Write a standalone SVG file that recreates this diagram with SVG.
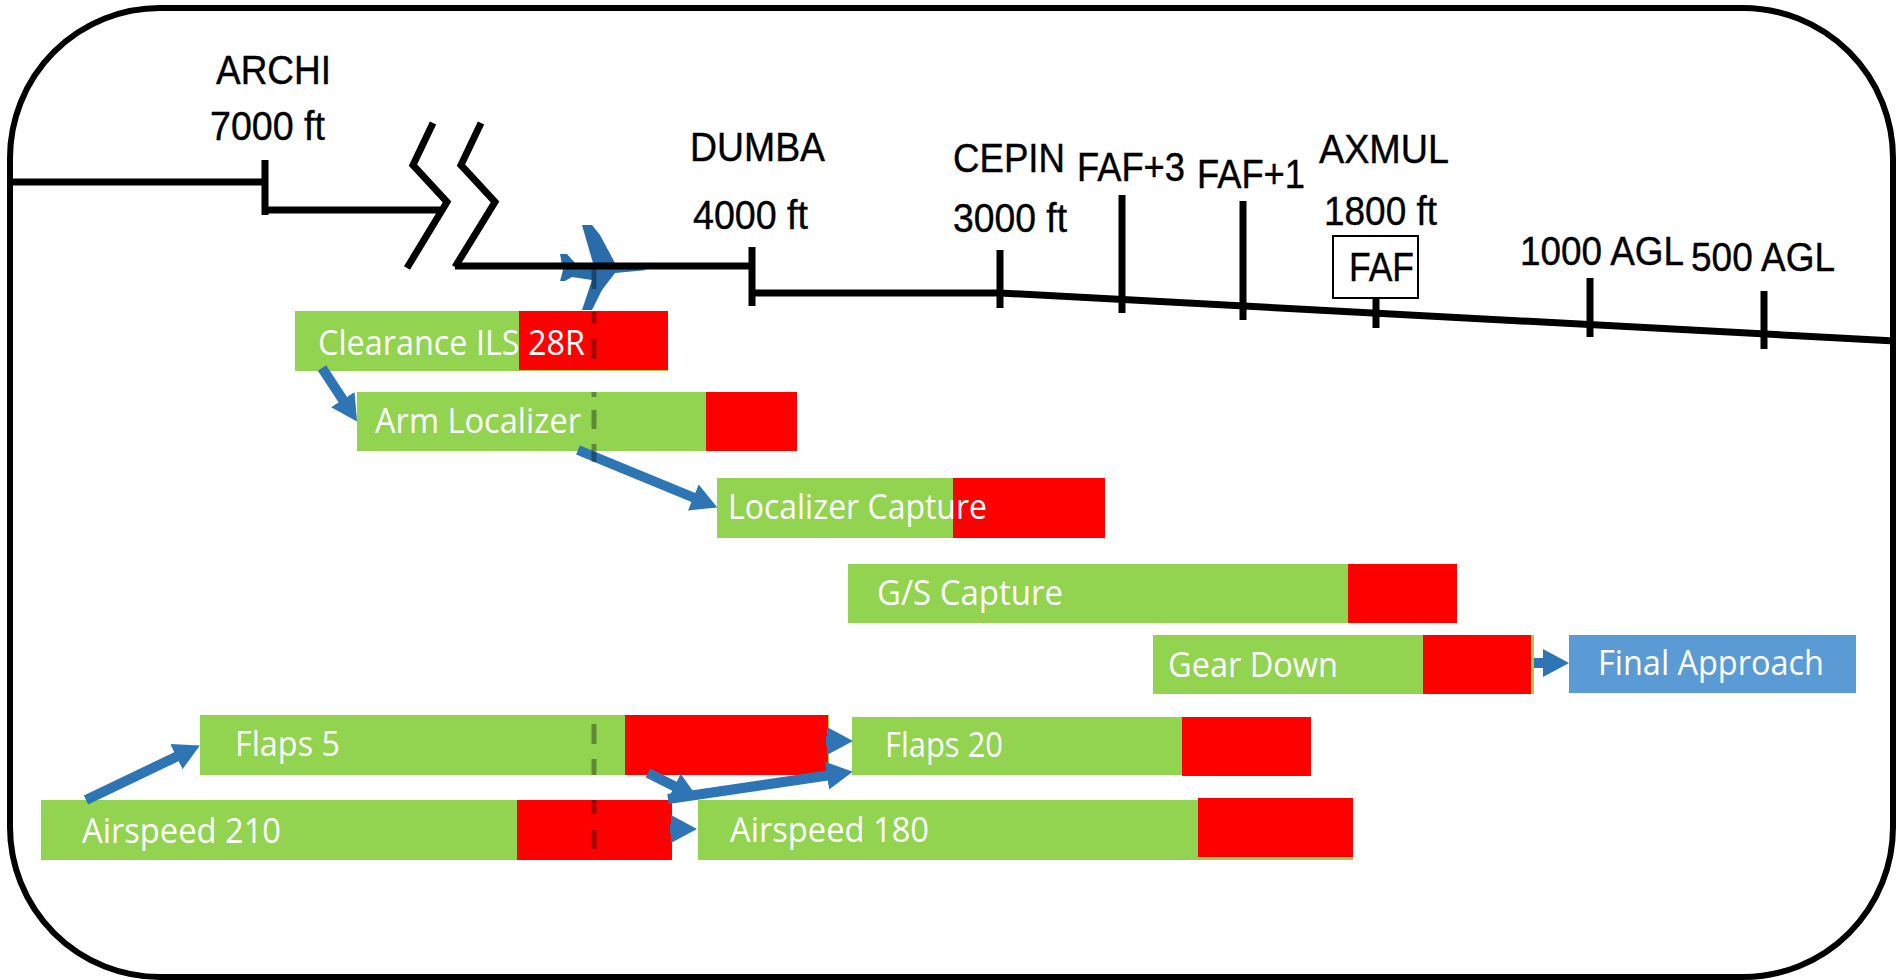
<svg xmlns="http://www.w3.org/2000/svg" width="1902" height="980" viewBox="0 0 1902 980">
<defs>
<marker id="ah" markerUnits="userSpaceOnUse" markerWidth="30" markerHeight="30" refX="4" refY="15" orient="auto"><path d="M0 1L26 15L0 29Z" fill="#2E75B6"/></marker>
</defs>
<style>
.ln{stroke:#000;stroke-width:7;fill:none}
.lb{font-family:"Liberation Sans",Arial,sans-serif;font-size:40px;fill:#000;stroke:#000;stroke-width:.4}
.bt{font-family:"Open Sans",sans-serif;font-size:34px;fill:#fff}
.g{fill:#92D350}.r{fill:#f00}
.ar{stroke:#2E75B6;stroke-width:10;fill:none;marker-end:url(#ah)}
.da{stroke:#000;stroke-opacity:.35;stroke-width:5;fill:none}
</style>
<rect width="1902" height="980" fill="#fff"/>
<rect id="frame" x="10" y="8" width="1883" height="969" rx="150" ry="150" fill="#fff" stroke="#000" stroke-width="6"/>
<g id="timeline">
<path class="ln" d="M10 182H265M265 160V215M265 210H440"/>
<path class="ln" d="M433 123L413 165L447 202L407 268M481 123L461 165L495 202L455 267"/>
<path id="plane" fill="#2A6BAA" d="M582 225H592L600 235L615 263L647 270L615 273L602 290L592 310H582L592 280L572 277L565 281H560L563 270L560 254H567L575 263H593Z"/>
<path class="ln" d="M455 266H752M752 247V306M752 293H1000L1895 341M1000 250V308"/>
<path class="ln" d="M1122 195V313M1243 201V320M1376 298V328M1590 278V337M1764 291V349"/>
</g>
<g id="n-archi"><text class="lb" x="216" y="84" textLength="115" lengthAdjust="spacingAndGlyphs">ARCHI</text><text class="lb" x="210" y="140" textLength="115" lengthAdjust="spacingAndGlyphs">7000 ft</text></g>
<g id="n-dumba"><text class="lb" x="690" y="161" textLength="135" lengthAdjust="spacingAndGlyphs">DUMBA</text><text class="lb" x="693" y="229" textLength="115" lengthAdjust="spacingAndGlyphs">4000 ft</text></g>
<g id="n-cepin"><text class="lb" x="953" y="172" textLength="112" lengthAdjust="spacingAndGlyphs">CEPIN</text><text class="lb" x="953" y="232" textLength="114" lengthAdjust="spacingAndGlyphs">3000 ft</text></g>
<g id="n-faf3"><text class="lb" x="1077" y="181" textLength="108" lengthAdjust="spacingAndGlyphs">FAF+3</text></g>
<g id="n-faf1"><text class="lb" x="1197" y="188" textLength="108" lengthAdjust="spacingAndGlyphs">FAF+1</text></g>
<g id="n-axmul"><text class="lb" x="1319" y="163" textLength="130" lengthAdjust="spacingAndGlyphs">AXMUL</text><text class="lb" x="1324" y="225" textLength="113" lengthAdjust="spacingAndGlyphs">1800 ft</text></g>
<g id="n-faf"><rect x="1333" y="236" width="85" height="62" fill="#fff" stroke="#000" stroke-width="2"/><text class="lb" x="1349" y="281" textLength="65" lengthAdjust="spacingAndGlyphs">FAF</text></g>
<g id="n-1000"><text class="lb" x="1520" y="265" textLength="164" lengthAdjust="spacingAndGlyphs">1000 AGL</text></g>
<g id="n-500"><text class="lb" x="1691" y="271" textLength="144" lengthAdjust="spacingAndGlyphs">500 AGL</text></g>
<g id="n-clearance"><rect class="g" x="295" y="311" width="373" height="60"/><rect class="r" x="519" y="311" width="149" height="59"/><text class="bt" x="318" y="355" textLength="267" lengthAdjust="spacingAndGlyphs">Clearance ILS 28R</text></g>
<g id="n-arm"><rect class="g" x="357" y="392" width="440" height="59"/><rect class="r" x="706" y="392" width="91" height="59"/><text class="bt" x="375" y="433" textLength="206" lengthAdjust="spacingAndGlyphs">Arm Localizer</text></g>
<g id="n-loc"><rect class="g" x="717" y="478" width="388" height="60"/><rect class="r" x="953" y="478" width="152" height="60"/><text class="bt" x="728" y="519" textLength="259" lengthAdjust="spacingAndGlyphs">Localizer Capture</text></g>
<g id="n-gs"><rect class="g" x="848" y="564" width="609" height="59"/><rect class="r" x="1348" y="564" width="109" height="59"/><text class="bt" x="877" y="605" textLength="186" lengthAdjust="spacingAndGlyphs">G/S Capture</text></g>
<g id="n-gear"><rect class="g" x="1153" y="635" width="381" height="59"/><rect class="r" x="1423" y="635" width="108" height="59"/><text class="bt" x="1168" y="677" textLength="170" lengthAdjust="spacingAndGlyphs">Gear Down</text></g>
<g id="n-final"><rect x="1569" y="635" width="287" height="58" fill="#5B9BD5"/><text class="bt" x="1598" y="675" textLength="226" lengthAdjust="spacingAndGlyphs">Final Approach</text></g>
<g id="n-flaps5"><rect class="g" x="200" y="715" width="629" height="60"/><rect class="r" x="625" y="715" width="203" height="60"/><text class="bt" x="235" y="756" textLength="105" lengthAdjust="spacingAndGlyphs">Flaps 5</text></g>
<g id="n-flaps20"><rect class="g" x="852" y="717" width="459" height="58"/><rect class="r" x="1182" y="717" width="129" height="59"/><text class="bt" x="885" y="757" textLength="118" lengthAdjust="spacingAndGlyphs">Flaps 20</text></g>
<g id="n-as210"><rect class="g" x="41" y="800" width="631" height="60"/><rect class="r" x="517" y="800" width="155" height="60"/><text class="bt" x="82" y="843" textLength="199" lengthAdjust="spacingAndGlyphs">Airspeed 210</text></g>
<g id="n-as180"><rect class="g" x="698" y="800" width="655" height="60"/><rect class="r" x="1198" y="798" width="155" height="59"/><text class="bt" x="730" y="842" textLength="199" lengthAdjust="spacingAndGlyphs">Airspeed 180</text></g>
<g id="connectors">
<path class="ar" d="M322 368L345 403"/>
<path class="ar" d="M578 450L697 499"/>
<path class="ar" d="M86 800L180 755"/>
<path class="ar" d="M826 741H831"/>
<path class="ar" d="M648 773L678 788"/>
<path class="ar" d="M668 799L831 775"/>
<path class="ar" d="M670 829H675"/>
<path class="ar" d="M1534 663H1547"/>
<path class="da" d="M594 268V289M594 312V324M594 339V359M594 392V397M594 410V429M594 444V462M594 724V744M594 759V775M594 800V814M594 830V849"/>
</g>
</svg>
